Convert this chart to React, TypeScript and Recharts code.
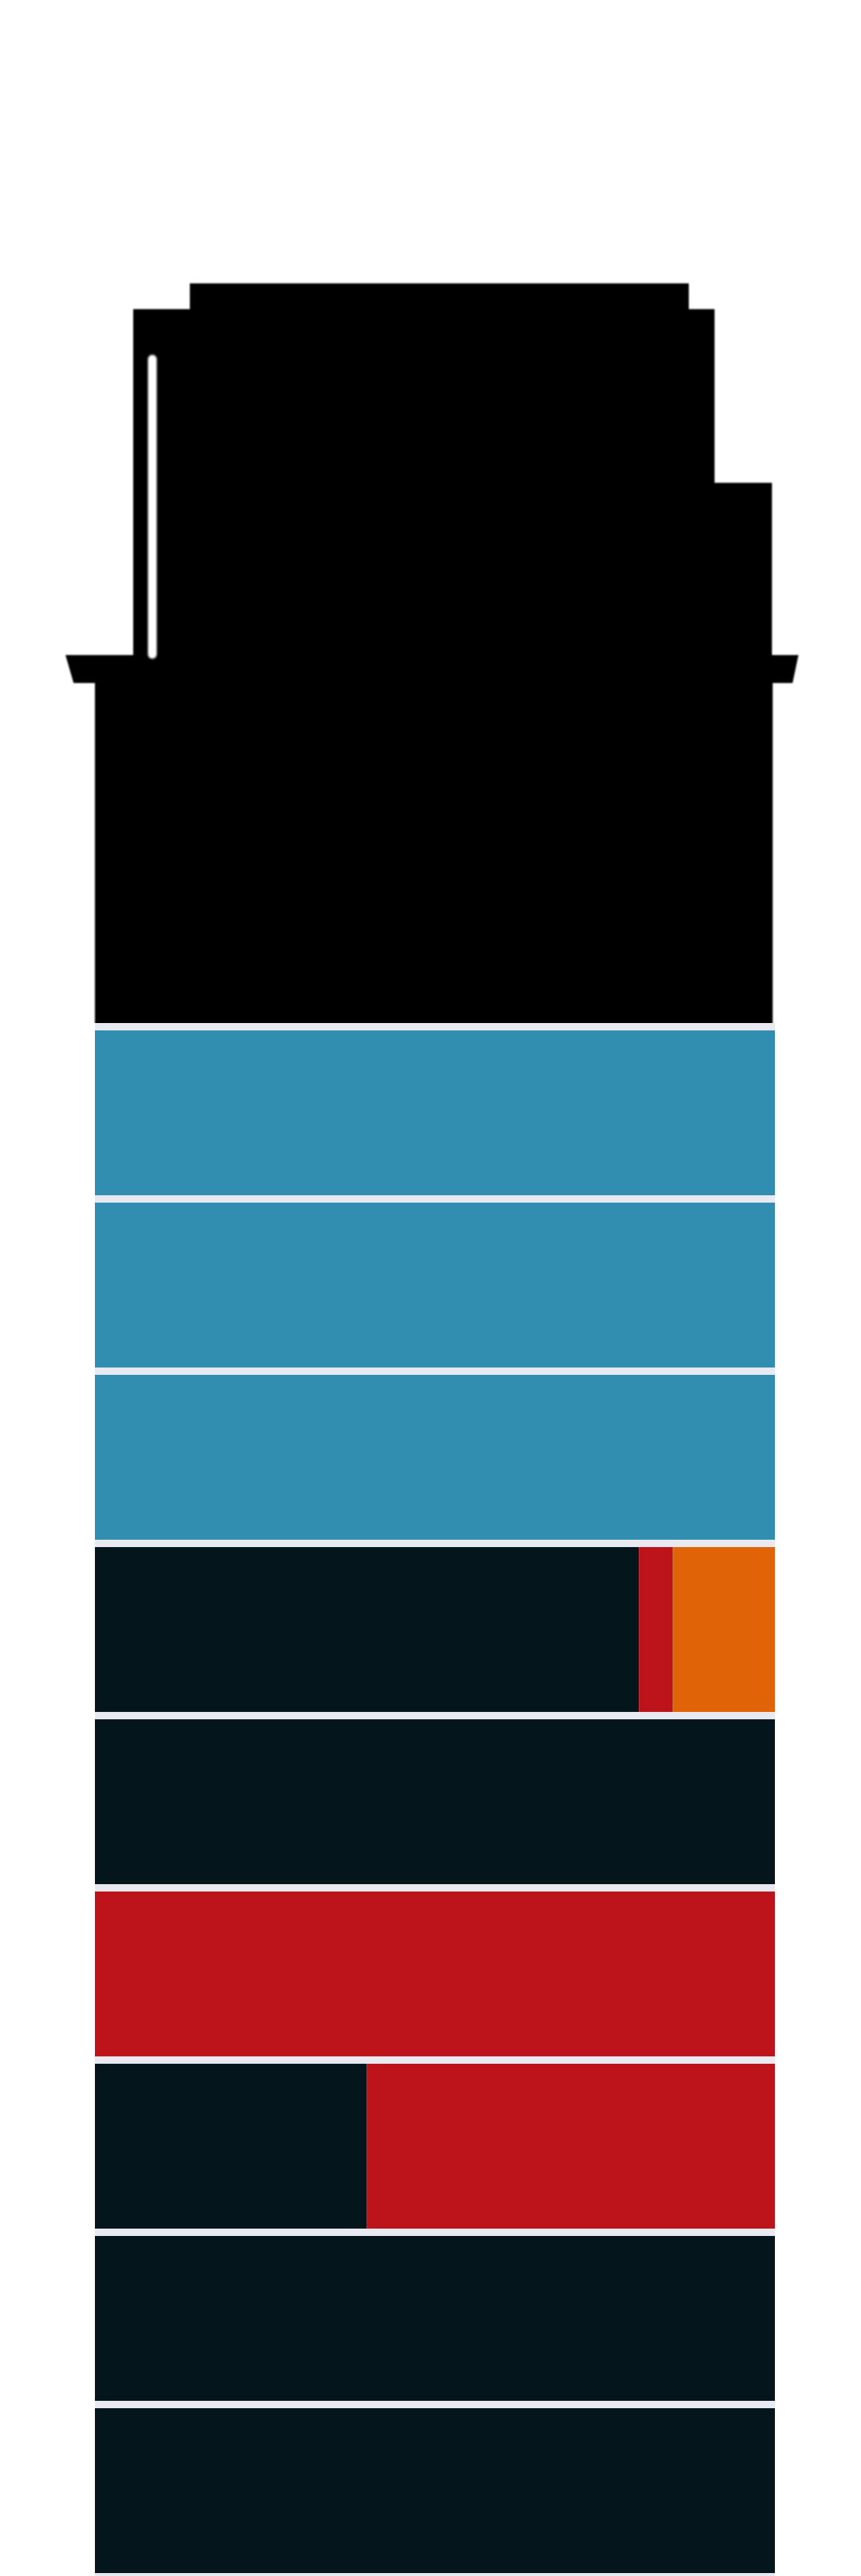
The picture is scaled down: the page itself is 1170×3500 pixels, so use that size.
import React from 'react';
import { BarChart, Bar, XAxis, YAxis, CartesianGrid, Customized } from 'recharts';

const rows = ['Row 1', 'Row 2', 'Row 3', 'Row 4', 'Row 5', 'Row 6', 'Row 7', 'Row 8', 'Row 9'];
const tealValues = [100, 100, 100, 0, 0, 0, 0, 0, 0];
const darkValues = [0, 0, 0, 80, 100, 0, 40, 100, 100];
const redValues = [0, 0, 0, 5, 0, 100, 60, 0, 0];
const orangeValues = [0, 0, 0, 15, 0, 0, 0, 0, 0];

const COLORS = {
  teal: '#318EB0',
  dark: '#05151C',
  red: '#BD141C',
  orange: '#E06307',
  gap: '#E9E9F2',
  bottle: '#000000',
};

const data = rows.map((name, i) => ({
  name,
  teal: tealValues[i],
  dark: darkValues[i],
  red: redValues[i],
  orange: orangeValues[i],
}));

const Bottle = () => (
  <g>
    <defs>
      <filter id="soft" x="-5%" y="-5%" width="110%" height="110%">
        <feGaussianBlur stdDeviation="1.3" />
      </filter>
      <filter id="softer" x="-100%" y="-5%" width="300%" height="110%">
        <feGaussianBlur stdDeviation="1.8" />
      </filter>
      <clipPath id="bottleClip">
        <rect x={0} y={0} width={1170} height={1390} />
      </clipPath>
    </defs>
    <g clipPath="url(#bottleClip)">
      <path
        d="M 258 385 L 936 385 L 936 420 L 971 420 L 971 656 L 1049 656 L 1049 890 L 1085 890 L 1077 928 L 1050 928 L 1050 1400 L 129 1400 L 129 928 L 100 928 L 89 890 L 181 890 L 181 420 L 258 420 Z"
        fill={COLORS.bottle}
        filter="url(#soft)"
      />
    </g>
    <rect x={201} y={482} width={12} height={413} rx={6} fill="#ffffff" filter="url(#softer)" />
  </g>
);

export default function App() {
  return (
    <div style={{ position: 'absolute', left: 0, top: 0, width: 1170, height: 3500, overflow: 'hidden', background: '#fff' }}>
      <BarChart
        width={1170}
        height={3510}
        data={data}
        layout="vertical"
        margin={{ top: 1390, right: 117, bottom: 4, left: 129 }}
        barCategoryGap={5}
      >
        <CartesianGrid fill={COLORS.gap} horizontal={false} vertical={false} stroke="none" />
        <XAxis type="number" domain={[0, 100]} hide />
        <YAxis type="category" dataKey="name" hide padding={{ top: 5, bottom: 5 }} />
        <Bar dataKey="teal" stackId="s" fill={COLORS.teal} isAnimationActive={false} />
        <Bar dataKey="dark" stackId="s" fill={COLORS.dark} isAnimationActive={false} />
        <Bar dataKey="red" stackId="s" fill={COLORS.red} isAnimationActive={false} />
        <Bar dataKey="orange" stackId="s" fill={COLORS.orange} isAnimationActive={false} />
        <Customized component={Bottle} />
      </BarChart>
    </div>
  );
}
